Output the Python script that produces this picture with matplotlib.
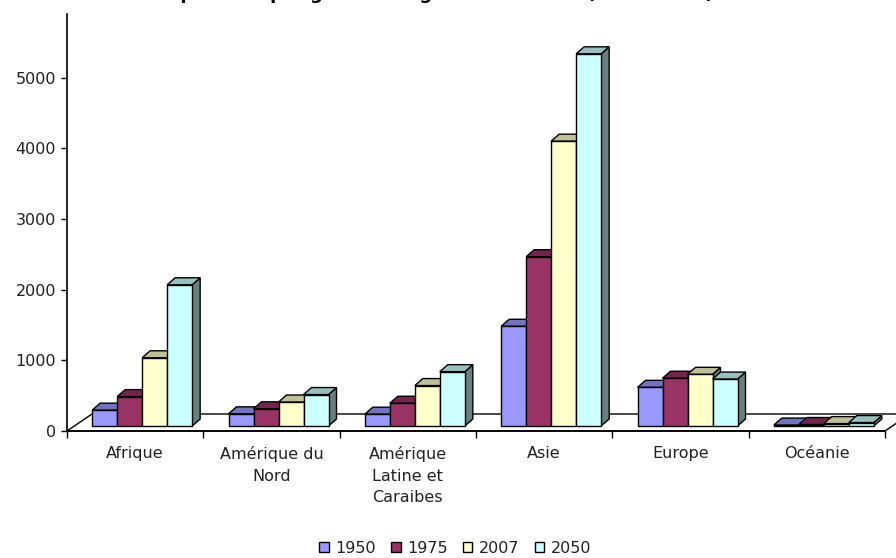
import matplotlib
matplotlib.use('Agg')
import matplotlib.pyplot as plt
import numpy as np
from matplotlib.patches import Polygon, Patch

regions = ['Afrique', 'Amérique du\nNord', 'Amérique\nLatine et\nCaraibes', 'Asie', 'Europe', 'Océanie']
years = ['1950', '1975', '2007', '2050']
pop_1950 = [224, 172, 167, 1411, 547, 13]
pop_1975 = [416, 243, 322, 2395, 676, 21]
pop_2007 = [965, 339, 572, 4030, 731, 34]
pop_2050 = [1998, 445, 769, 5266, 664, 49]
series = [pop_1950, pop_1975, pop_2007, pop_2050]

front_col = ['#9999FF', '#993366', '#FFFFCC', '#CCFFFF']
top_col = ['#7373BF', '#73264D', '#BFBF99', '#99BFBF']
side_col = ['#4D4D80', '#4D1A33', '#80806A', '#668080']

title = 'Population par grandes régions du monde (en millions)'

plt.rcParams['font.family'] = ['DejaVu Sans']
W, H = 896, 558
fig = plt.figure(figsize=(W / 100, H / 100), dpi=100)
ax = fig.add_axes([67 / W, (H - 431) / H, (885 - 67) / W, (431 - 14) / H])
ax.set_xlim(-0.5, 5.5)
ax.set_ylim(0, 5900)

# pixel -> data units
ux = 6 / (885 - 67)
uy = 5900 / (431 - 14)

def px(dx, dy):
    return dx * ux, dy * uy

floor_dx, floor_dy = px(25, 17)
plane_dx, plane_dy = px(7, 5)
bar_dx, bar_dy = px(8, 7)
w = 25 * ux

# floor
floor = Polygon([(-0.5, 0), (5.5, 0), (5.5 + floor_dx, floor_dy), (-0.5 + floor_dx, floor_dy)],
                closed=True, facecolor='white', edgecolor='black', lw=1, zorder=1, clip_on=False)
ax.add_patch(floor)

z = 2
for i in range(len(regions)):
    for j, vals in enumerate(series):
        v = vals[i]
        x0 = i + (j - 2) * w + plane_dx
        y0 = plane_dy
        side = Polygon([(x0 + w, y0), (x0 + w + bar_dx, y0 + bar_dy),
                        (x0 + w + bar_dx, y0 + v + bar_dy), (x0 + w, y0 + v)],
                       closed=True, facecolor=side_col[j], edgecolor='black', lw=1, zorder=z, clip_on=False)
        top = Polygon([(x0, y0 + v), (x0 + w, y0 + v), (x0 + w + bar_dx, y0 + v + bar_dy),
                       (x0 + bar_dx, y0 + v + bar_dy)],
                      closed=True, facecolor=top_col[j], edgecolor='black', lw=1, zorder=z, clip_on=False)
        ax.add_patch(side)
        ax.add_patch(top)
        ax.bar(x0, v, width=w, bottom=y0, align='edge', color=front_col[j],
               edgecolor='black', lw=1, zorder=z + 0.5, clip_on=False)
        z += 1

for s in ['top', 'right', 'bottom']:
    ax.spines[s].set_visible(False)
ax.spines['left'].set_linewidth(1.2)
ax.axhline(0, color='black', lw=1.2, zorder=100, clip_on=False)

ax.set_yticks([0, 1000, 2000, 3000, 4000, 5000])
ax.tick_params(axis='y', length=4, width=1, pad=4, labelsize=11.5, labelcolor='#222222')
ax.set_xticks(np.arange(-0.5, 6, 1))
ax.set_xticklabels([])
ax.tick_params(axis='x', which='major', length=5, width=1)
ax.set_xticks(np.arange(6), minor=True)
ax.set_xticklabels(regions, minor=True, fontsize=11.5, linespacing=1.55, color='#222222')
ax.tick_params(axis='x', which='minor', length=0, pad=11)

handles = [Patch(facecolor=front_col[j], edgecolor='black', lw=1) for j in range(4)]
fig.legend(handles, years, loc='lower center', bbox_to_anchor=(0.508, -0.022), ncol=4,
           frameon=False, fontsize=11.5, handlelength=0.6, handleheight=0.6,
           handletextpad=0.4, columnspacing=0.95, labelcolor='#222222')

# title is cut off at the top of the picture
fig.text(0.485, 1 + 1 / H, title, ha='center', va='baseline', fontsize=13, fontweight='bold')

fig.savefig('out.png', dpi=100)
